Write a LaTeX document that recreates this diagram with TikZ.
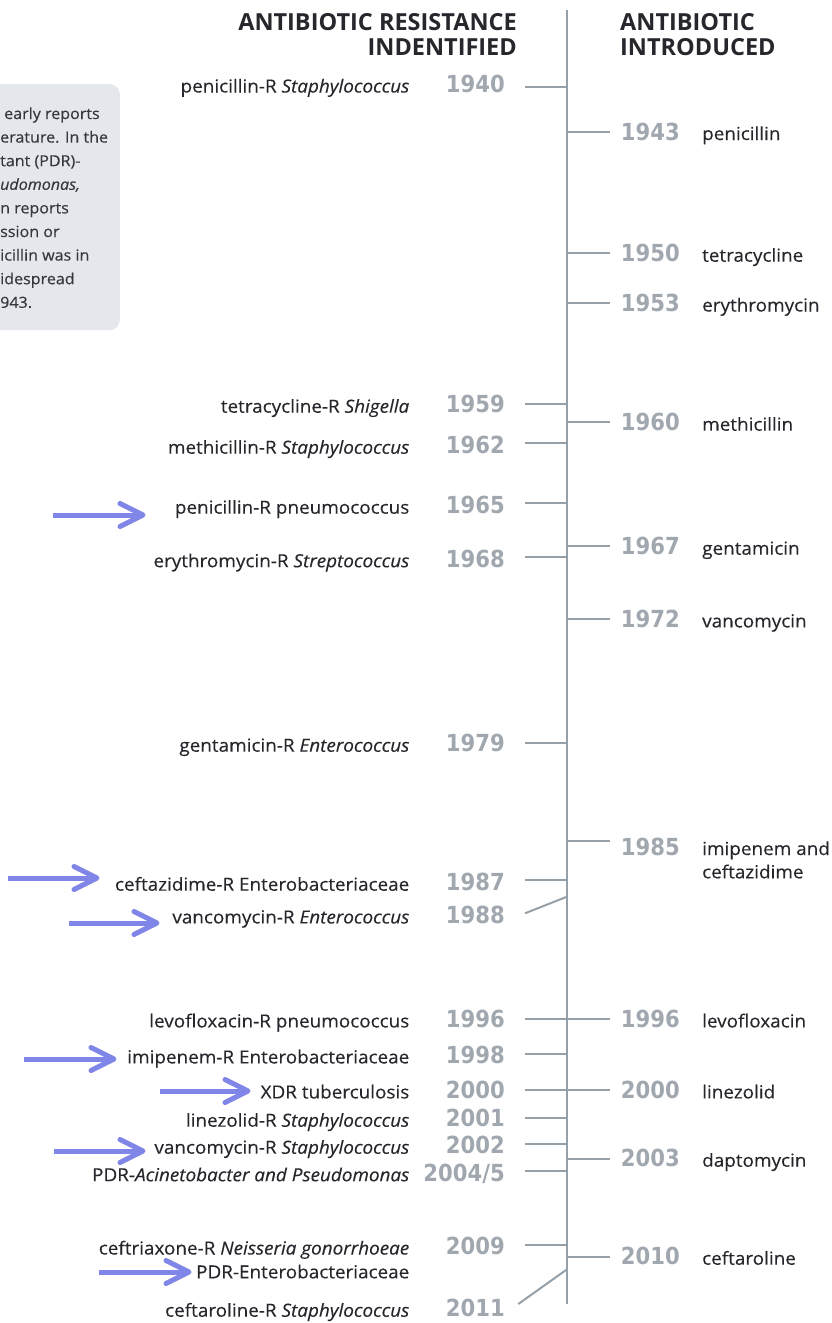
\documentclass[tikz,border=0pt]{standalone}
\usepackage{fontspec}
\setmainfont{Open Sans}
\newfontfamily\yearfont[FakeStretch=0.9]{DejaVu Sans}
\newfontfamily\labfont[FakeStretch=1.05, FakeBold=0.3]{Open Sans}
\usetikzlibrary{calc}
\definecolor{axisgray}{RGB}{150,160,168}
\definecolor{yeargray}{RGB}{160,167,175}
\definecolor{labelink}{RGB}{40,38,44}
\definecolor{boxink}{RGB}{55,55,62}
\definecolor{boxfill}{RGB}{228,231,235}
\definecolor{arrowblue}{RGB}{128,134,232}
\begin{document}
\begin{tikzpicture}[x=1pt,y=-1pt,
  lab/.style={inner sep=0pt, font=\labfont\fontsize{18}{23}\selectfont, text=labelink},
  labL/.style={lab, anchor=base east},
  labR/.style={lab, anchor=base west},
  yr/.style={inner sep=0pt, font=\yearfont\bfseries\fontsize{23.5}{26}\selectfont, text=yeargray},
  yrL/.style={yr, anchor=base east},
  yrR/.style={yr, anchor=base west},
  tickline/.style={draw=axisgray, line width=2pt},
  hdr/.style={inner sep=0pt, font=\bfseries\fontsize{23.5}{25}\selectfont, text=labelink},
  ptrshaft/.style={draw=arrowblue, line width=5pt, line cap=butt},
  ptrhead/.style={draw=arrowblue, line width=5pt, line cap=round, line join=round},
  boxtxt/.style={inner sep=0pt, anchor=base west, font=\labfont\fontsize{15.3}{20}\selectfont, text=boxink}
]
\useasboundingbox (0,0) rectangle (831,1323);

% note box (cut off at the left edge)
\begin{scope}
\clip (0,0) rectangle (831,1323);
\node[name=note, fill=boxfill, rounded corners=10pt, minimum width=150pt, minimum height=246pt, anchor=north east, inner sep=0pt] at (120,84) {};
\node[boxtxt] (n1) at (4,119) {early reports};
\node[boxtxt] (n2) at (0,142.6) {erature. In the};
\node[boxtxt] (n3) at (0,166.2) {tant (PDR)-};
\node[boxtxt] (n4) at (0,189.8) {\textit{udomonas,}};
\node[boxtxt] (n5) at (0,213.4) {n reports};
\node[boxtxt] (n6) at (0,237) {ssion or};
\node[boxtxt] (n7) at (0,260.6) {icillin was in};
\node[boxtxt] (n8) at (0,284.2) {idespread};
\node[boxtxt] (n9) at (0,307.8) {943.};
\end{scope}

% headers
\node[hdr, anchor=base east] (hL1) at (517,30) {ANTIBIOTIC RESISTANCE};
\node[hdr, anchor=base east] (hL2) at (517,55) {INDENTIFIED};
\node[hdr, anchor=base west] (hR1) at (620,30) {ANTIBIOTIC};
\node[hdr, anchor=base west] (hR2) at (620,55) {INTRODUCED};

% axis
\coordinate (axtop) at (567,10);
\coordinate (axbot) at (567,1304);
\draw[tickline] (axtop) -- (axbot);

% left ticks
\foreach \n/\y in {1940/87.3, 1959/403.7, 1962/443.3, 1965/503.3, 1968/557.3, 1979/743, 1987/880.3, 1996/1019, 1998/1054.3, 2000/1090, 2001/1118, 2002/1144.3, 2004/1171, 2009/1245}{
  \coordinate (tl\n) at (525,\y);
  \coordinate (al\n) at (567,\y);
  \draw[tickline] (tl\n) -- (al\n);
}
\coordinate (tl1988) at (525,913.3);
\coordinate (al1988) at (567,896.7);
\draw[tickline] (tl1988) -- (al1988);
\coordinate (tl2011) at (518.3,1304);
\coordinate (al2011) at (567,1269.3);
\draw[tickline] (tl2011) -- (al2011);

% right ticks
\foreach \n/\y in {1943/132, 1950/253, 1953/302.5, 1960/422.3, 1967/546, 1972/619.3, 1985/840.7, 1996/1019, 2000/1090, 2003/1159.3, 2010/1256.7}{
  \coordinate (ar\n) at (567,\y);
  \coordinate (tr\n) at (610,\y);
  \draw[tickline] (ar\n) -- (tr\n);
}

% left years
\foreach \n/\t/\y in {1940/1940/92.5, 1959/1959/412.7, 1962/1962/453.7, 1965/1965/513.7, 1968/1968/567.2, 1979/1979/751.7, 1987/1987/890.7, 1988/1988/923.4, 1996/1996/1027.4, 1998/1998/1063.4, 2000/2000/1098.4, 2001/2001/1126.7, 2002/2002/1153.7, 2004/{2004/5}/1181.2, 2009/2009/1254.5, 2011/2011/1316.7}{
  \node[yrL] (yl\n) at (505,\y) {\t};
}

% right years
\foreach \n/\y in {1943/140, 1950/261.7, 1953/311.5, 1960/430.7, 1967/554.7, 1972/627.4, 1985/855.4, 1996/1027.4, 2000/1098.4, 2003/1166.7, 2010/1264.7}{
  \node[yrR] (yr\n) at (620.7,\y) {\n};
}

% left labels
\node[labL] (L1940) at (409.5,92.5) {penicillin-R \textit{Staphylococcus}};
\node[labL] (L1959) at (409.5,412.7) {tetracycline-R \textit{Shigella}};
\node[labL] (L1962) at (409.5,453.7) {methicillin-R \textit{Staphylococcus}};
\node[labL] (L1965) at (409.5,513.7) {penicillin-R pneumococcus};
\node[labL] (L1968) at (409.5,567.2) {erythromycin-R \textit{Streptococcus}};
\node[labL] (L1979) at (409.5,751.7) {gentamicin-R \textit{Enterococcus}};
\node[labL] (L1987) at (409.5,890.7) {ceftazidime-R Enterobacteriaceae};
\node[labL] (L1988) at (409.5,923.4) {vancomycin-R \textit{Enterococcus}};
\node[labL] (L1996) at (409.5,1027.4) {levofloxacin-R pneumococcus};
\node[labL] (L1998) at (409.5,1063.4) {imipenem-R Enterobacteriaceae};
\node[labL] (L2000) at (409.5,1098.4) {XDR tuberculosis};
\node[labL] (L2001) at (409.5,1126.7) {linezolid-R \textit{Staphylococcus}};
\node[labL] (L2002) at (409.5,1153.7) {vancomycin-R \textit{Staphylococcus}};
\node[labL] (L2004) at (409.5,1181.2) {PDR-\textit{Acinetobacter and Pseudomonas}};
\node[labL] (L2009) at (409.5,1254.5) {ceftriaxone-R \textit{Neisseria gonorrhoeae}};
\node[labL] (LPDR) at (409.5,1278.3) {PDR-Enterobacteriaceae};
\node[labL] (L2011) at (409.5,1316.7) {ceftaroline-R \textit{Staphylococcus}};

% right labels
\node[labR] (R1943) at (702,140) {penicillin};
\node[labR] (R1950) at (702,261.7) {tetracycline};
\node[labR] (R1953) at (702,311.5) {erythromycin};
\node[labR] (R1960) at (702,430.7) {methicillin};
\node[labR] (R1967) at (702,554.7) {gentamicin};
\node[labR] (R1972) at (702,627.4) {vancomycin};
\node[labR] (R1985a) at (702,855) {imipenem and};
\node[labR] (R1985b) at (702,878.3) {ceftazidime};
\node[labR] (R1996) at (702,1027.4) {levofloxacin};
\node[labR] (R2000) at (702,1098.4) {linezolid};
\node[labR] (R2003) at (702,1166.7) {daptomycin};
\node[labR] (R2010) at (702,1264.7) {ceftaroline};

% highlight arrows
\foreach \n/\xa/\xb/\y in {a/53/143/515, b/8/97/878, c/69/157/923, d/24/114/1059, e/160/248/1091, f/54/143/1151, g/99/189/1272}{
  \coordinate (ps\n) at (\xa,\y);
  \coordinate (pe\n) at (\xb,\y);
  \draw[ptrshaft] (ps\n) -- ($(pe\n)+(-2,0)$);
  \draw[ptrhead] ($(pe\n)+(-23,-11.5)$) -- (pe\n) -- ($(pe\n)+(-23,11.5)$);
}
\end{tikzpicture}
\end{document}
